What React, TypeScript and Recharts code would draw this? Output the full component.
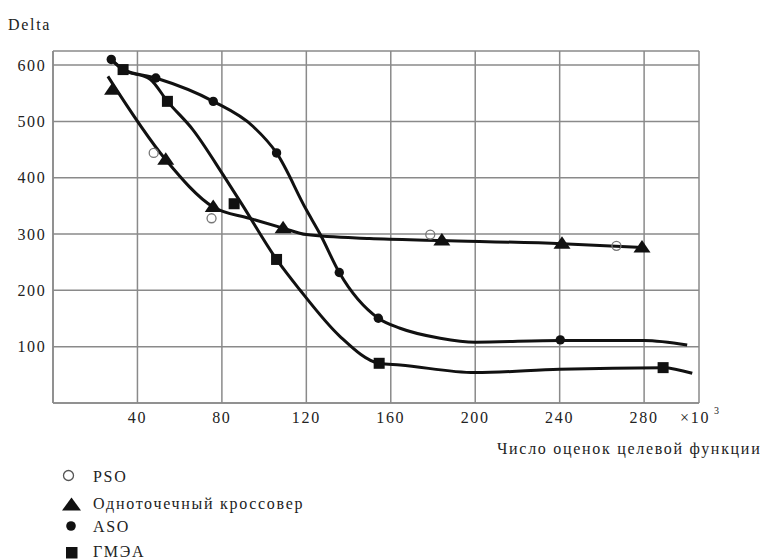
import { ComposedChart, Line, XAxis, YAxis, CartesianGrid } from 'recharts'

const FONT = '"Liberation Serif", "DejaVu Serif", serif'
const INK = '#111'
const GRID = '#8a8a8a'
const SPACING = 1.7

const xTicks = [40, 80, 120, 160, 200, 240, 280]
const yTicks = [100, 200, 300, 400, 500, 600]

// marker positions (x in thousands of evaluations)
const psoX = [47.7, 75.1, 178.7, 266.9]
const psoY = [444, 328, 299, 279]

const crossX = [28.2, 53.4, 75.9, 109, 184.2, 241.1, 279]
const crossY = [556, 432, 348, 310.5, 288.6, 282.7, 276]

const asoX = [27.6, 48.7, 75.9, 105.9, 135.6, 154.1, 240.3]
const asoY = [610, 577, 535.6, 444, 231.7, 150.5, 112]

const gmeaX = [33.2, 54.2, 85.8, 105.9, 154.5, 289]
const gmeaY = [592, 535.6, 353.8, 254.9, 70.5, 62.8]

// traced curve points
const crossLineX = [26, 53.4, 75.9, 93, 109, 120, 150, 184.2, 241.1, 279]
const crossLineY = [580, 432, 348, 328, 310.5, 299, 292, 288.6, 282.7, 276]

const asoLineX = [27.6, 33.2, 48.7, 75.9, 94.8, 105.9, 120, 126.5, 135.6, 154.1, 164.4, 183.4, 200, 240.3, 280, 300.4]
const asoLineY = [610, 592, 577, 535.6, 491, 444, 343, 300, 231.7, 150.5, 132.7, 115, 108, 111, 111, 103]

const gmeaLineX = [27.6, 33.2, 46, 54.2, 66.3, 80.6, 89.3, 105.9, 116.9, 136, 154.5, 164.4, 200, 240, 289, 302.8]
const gmeaLineY = [610, 592, 575, 535.6, 485, 405, 354, 254.9, 201, 118, 70.5, 67.5, 54, 60, 62.8, 52.8]

const zip = (xs: number[], ys: number[]) => xs.map((x, i) => ({ x, y: ys[i] }))

const Triangle = (p: any) => {
    if (p.cx == null || p.cy == null) return <g key={p.index} />
    const { cx, cy } = p
    return (
        <polygon
            key={p.index}
            points={`${cx},${cy - 7.5} ${cx - 8.5},${cy + 5} ${cx + 8.5},${cy + 5}`}
            fill={INK}
        />
    )
}

const Dot = (p: any) => {
    if (p.cx == null || p.cy == null) return <g key={p.index} />
    return <circle key={p.index} cx={p.cx} cy={p.cy} r={4.7} fill={INK} />
}

const Square = (p: any) => {
    if (p.cx == null || p.cy == null) return <g key={p.index} />
    return <rect key={p.index} x={p.cx - 5.5} y={p.cy - 5.5} width={11} height={11} fill={INK} />
}

const OpenDot = (p: any) => {
    if (p.cx == null || p.cy == null) return <g key={p.index} />
    return <circle key={p.index} cx={p.cx} cy={p.cy} r={4.5} fill="none" stroke="#777" strokeWidth={1.3} />
}

const textStyle = { style: { fontFamily: FONT }, fontSize: 16, fill: '#222', letterSpacing: SPACING }

export default function App() {
    return (
        <div style={{ position: 'absolute', left: 0, top: 0, width: 763, height: 560, background: '#fff', fontFamily: FONT }}>
            <ComposedChart width={763} height={560} margin={{ top: 51, right: 64, bottom: 127, left: 8 }}>
                <CartesianGrid stroke={GRID} strokeWidth={1.5} />
                <XAxis
                    type="number"
                    dataKey="x"
                    domain={[0, 306]}
                    ticks={xTicks}
                    interval={0}
                    allowDataOverflow
                    height={30}
                    tickLine={false}
                    tickSize={0}
                    tickMargin={9}
                    axisLine={{ stroke: GRID, strokeWidth: 1.5 }}
                    tick={textStyle}
                />
                <YAxis
                    type="number"
                    dataKey="y"
                    domain={[0, 625]}
                    ticks={yTicks}
                    interval={0}
                    allowDataOverflow
                    width={45}
                    tickLine={false}
                    tickSize={0}
                    tickMargin={6.5}
                    axisLine={{ stroke: GRID, strokeWidth: 1.5 }}
                    tick={textStyle}
                />

                <Line data={zip(crossLineX, crossLineY)} dataKey="y" type="monotone" stroke={INK} strokeWidth={3} dot={false} activeDot={false} isAnimationActive={false} />
                <Line data={zip(asoLineX, asoLineY)} dataKey="y" type="monotone" stroke={INK} strokeWidth={3} dot={false} activeDot={false} isAnimationActive={false} />
                <Line data={zip(gmeaLineX, gmeaLineY)} dataKey="y" type="monotone" stroke={INK} strokeWidth={3} dot={false} activeDot={false} isAnimationActive={false} />

                <Line data={zip(psoX, psoY)} dataKey="y" stroke="none" dot={OpenDot} activeDot={false} isAnimationActive={false} />
                <Line data={zip(crossX, crossY)} dataKey="y" stroke="none" dot={Triangle} activeDot={false} isAnimationActive={false} />
                <Line data={zip(asoX, asoY)} dataKey="y" stroke="none" dot={Dot} activeDot={false} isAnimationActive={false} />
                <Line data={zip(gmeaX, gmeaY)} dataKey="y" stroke="none" dot={Square} activeDot={false} isAnimationActive={false} />
            </ComposedChart>

            <svg width={763} height={560} style={{ position: 'absolute', left: 0, top: 0, pointerEvents: 'none', fontFamily: FONT }}>
                <g fontSize={16} fill="#222" letterSpacing={SPACING}>
                    <text x={8} y={30}>Delta</text>
                    <text x={680} y={423}>×10</text>
                    <text x={714} y={414} fontSize={10} letterSpacing={0}>3</text>
                    <text x={497} y={454}>Число оценок целевой функции</text>

                    <circle cx={68.5} cy={475.5} r={5} fill="none" stroke="#555" strokeWidth={1.3} />
                    <text x={93} y={481.5}>PSO</text>

                    <polygon points="71.5,497.5 62,510.5 81,510.5" fill={INK} />
                    <text x={93} y={509}>Одноточечный кроссовер</text>

                    <circle cx={71} cy={526} r={4.8} fill={INK} />
                    <text x={93} y={531.5}>ASO</text>

                    <rect x={66} y={547} width={11.5} height={11.5} fill={INK} />
                    <text x={93} y={557}>ГМЭА</text>
                </g>
            </svg>
        </div>
    )
}
